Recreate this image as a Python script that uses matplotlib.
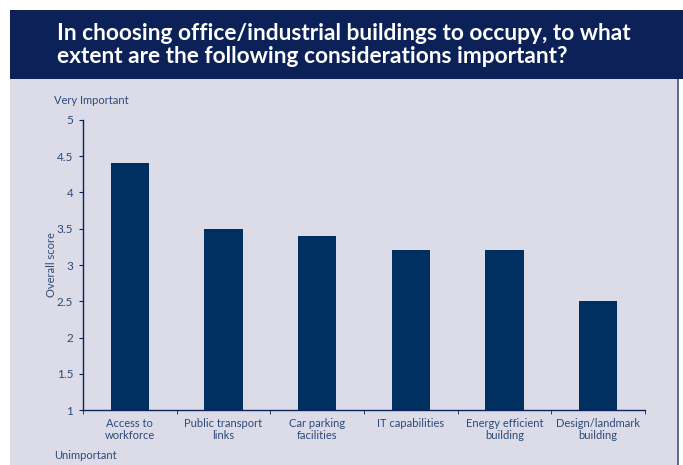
import matplotlib.pyplot as plt
from matplotlib.patches import Rectangle

# data
categories = ["Access to\nworkforce", "Public transport\nlinks", "Car parking\nfacilities",
              "IT capabilities", "Energy efficient\nbuilding", "Design/landmark\nbuilding"]
scores = [4.4, 3.5, 3.4, 3.2, 3.2, 2.5]
yticks = [1, 1.5, 2, 2.5, 3, 3.5, 4, 4.5, 5]
ytick_labels = ["1", "1.5", "2", "2.5", "3", "3.5", "4", "4.5", "5"]

NAVY = "#0b2158"
BAR = "#00305f"
PANEL = "#dcdce8"
TEXT = "#2d4a78"

W, H = 683, 465
plt.rcParams["font.family"] = ["Lato", "DejaVu Sans"]
fig = plt.figure(figsize=(W / 100, H / 100), dpi=100)
fig.patch.set_facecolor("white")

def fx(px):
    return px / W

def fy(py):
    return 1 - py / H

# header band and panel
fig.patches.append(Rectangle((fx(10), fy(79)), fx(673), 69 / H, transform=fig.transFigure,
                             facecolor=NAVY, edgecolor="none", zorder=-5))
fig.patches.append(Rectangle((fx(10), 0), fx(668), fy(79), transform=fig.transFigure,
                             facecolor=PANEL, edgecolor="none", zorder=-5))
fig.patches.append(Rectangle((fx(677), 0), fx(2), fy(79), transform=fig.transFigure,
                             facecolor="#5a6a96", edgecolor="none", zorder=-5))

fig.text(fx(57), fy(45), "In choosing office/industrial buildings to occupy, to what\n"
         "extent are the following considerations important?",
         color="white", fontsize=16.4, fontweight="bold", ha="left", va="center",
         linespacing=1.15)

ax = fig.add_axes([fx(83), fy(410), fx(645 - 83), (410 - 120) / H])
ax.set_facecolor("none")
x = list(range(len(categories)))
ax.bar(x, scores, width=0.41, color=BAR, bottom=0, zorder=2)
ax.set_ylim(1, 5)
ax.set_xlim(-0.5, len(categories) - 0.5)
ax.set_yticks(yticks)
ax.set_yticklabels(ytick_labels, color=TEXT, fontsize=8.5)
ax.set_xticks(x)
ax.set_xticklabels(categories, color=TEXT, fontsize=8, linespacing=1.05)
ax.set_xticks([i - 0.5 for i in range(len(categories) + 1)], minor=True)
ax.tick_params(axis="x", which="major", length=0, pad=6)
ax.tick_params(axis="x", which="minor", length=3, color=NAVY, direction="out")
ax.tick_params(axis="y", length=3, color=NAVY, pad=4)
for s in ["top", "right"]:
    ax.spines[s].set_visible(False)
for s in ["left", "bottom"]:
    ax.spines[s].set_color(NAVY)
    ax.spines[s].set_linewidth(1)
ax.set_ylabel("Overall score", color=TEXT, fontsize=8)
ax.yaxis.set_label_coords((57 - 83) / (645 - 83), 0.5)

fig.text(fx(54), fy(100), "Very Important", color=TEXT, fontsize=8, ha="left", va="center")
fig.text(fx(54), fy(455), "Unimportant", color=TEXT, fontsize=8, ha="left", va="center")

fig.savefig("out.png", dpi=100, facecolor=fig.get_facecolor())
